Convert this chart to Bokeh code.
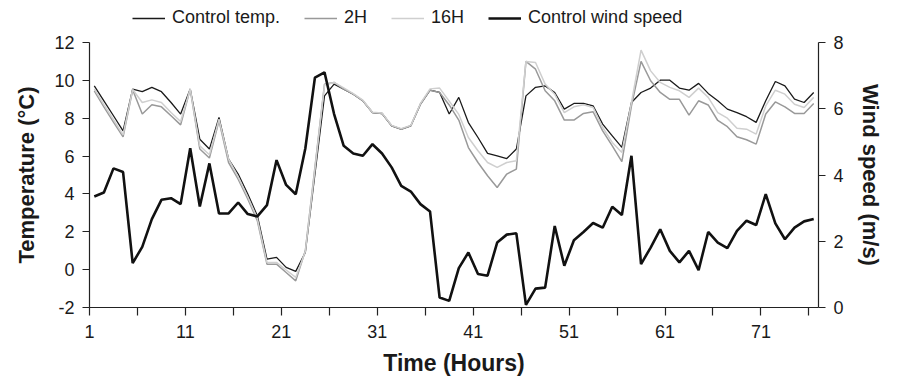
from bokeh.plotting import figure
from bokeh.layouts import column
from bokeh.models import (Range1d, LinearAxis, FixedTicker, Legend, LegendItem,
                          CustomJSTickFormatter)
from bokeh.embed import file_html
from bokeh.resources import INLINE

# ---- data ----
hours = list(range(1, 77))

control_temp = [9.71, 8.92, 8.13, 7.33, 9.54, 9.40, 9.63, 9.40, 8.83, 8.22,
                9.54, 6.89, 6.37, 8.04, 5.84, 5.05, 3.99, 2.85, 0.56, 0.65,
                0.12, -0.09, 0.91, 5.05, 9.18, 9.80, 9.54, 9.27, 8.92, 8.30,
                8.25, 7.60, 7.42, 7.60, 8.74, 9.48, 9.36, 8.22, 9.10, 7.77,
                6.98, 6.14, 6.01, 5.87, 6.37, 9.18, 9.63, 9.71, 9.36, 8.48,
                8.78, 8.78, 8.65, 7.69, 7.07, 6.46, 8.83, 9.36, 9.59, 10.01,
                10.01, 9.59, 9.48, 9.84, 9.31, 8.92, 8.48, 8.30, 8.08, 7.78,
                8.92, 9.94, 9.71, 9.01, 8.83, 9.36]

temp_2h = [9.45, 8.60, 7.80, 7.02, 9.50, 8.22, 8.71, 8.60, 8.13, 7.65,
           9.54, 6.37, 5.90, 7.86, 5.66, 4.78, 3.73, 2.58, 0.29, 0.29,
           -0.15, -0.59, 1.00, 5.40, 9.80, 9.89, 9.54, 9.27, 8.92, 8.30,
           8.25, 7.60, 7.42, 7.60, 8.74, 9.48, 9.36, 8.70, 7.90, 6.45,
           5.66, 4.96, 4.34, 5.05, 5.31, 11.00, 10.59, 9.45, 8.92, 7.90,
           7.90, 8.25, 8.34, 7.33, 6.54, 5.71, 8.65, 11.00, 9.98, 9.36,
           9.00, 9.00, 8.16, 8.92, 8.70, 7.88, 7.55, 7.02, 6.86, 6.63,
           8.22, 8.86, 8.60, 8.25, 8.25, 8.78]

temp_16h = [9.55, 8.72, 7.92, 7.12, 9.52, 8.83, 8.97, 8.83, 8.30, 7.83,
            9.54, 6.54, 6.07, 7.95, 5.84, 4.90, 3.85, 2.70, 0.38, 0.38,
            -0.02, -0.41, 0.96, 5.30, 9.75, 9.89, 9.60, 9.30, 8.95, 8.32,
            8.27, 7.62, 7.45, 7.62, 8.78, 9.55, 9.59, 8.90, 8.20, 6.98,
            6.28, 5.66, 5.40, 5.66, 5.75, 11.00, 10.94, 9.80, 9.27, 8.30,
            8.60, 8.71, 8.57, 7.51, 6.72, 6.19, 8.83, 11.60, 10.50, 9.89,
            9.63, 9.45, 9.10, 9.59, 9.10, 8.30, 8.00, 7.47, 7.42, 7.16,
            8.65, 9.48, 9.27, 8.74, 8.57, 9.10]

wind_speed = [3.35, 3.47, 4.20, 4.09, 1.34, 1.83, 2.67, 3.25, 3.30, 3.12,
              4.81, 3.05, 4.35, 2.84, 2.84, 3.17, 2.82, 2.75, 3.09, 4.45,
              3.70, 3.42, 4.80, 6.94, 7.10, 5.84, 4.88, 4.65, 4.58, 4.93,
              4.65, 4.23, 3.67, 3.50, 3.12, 2.90, 0.30, 0.20, 1.19, 1.66,
              1.01, 0.96, 1.96, 2.20, 2.24, 0.08, 0.57, 0.60, 2.46, 1.26,
              2.03, 2.28, 2.55, 2.41, 3.04, 2.79, 4.58, 1.31, 1.81, 2.36,
              1.71, 1.36, 1.71, 1.13, 2.28, 1.96, 1.79, 2.31, 2.62, 2.49,
              3.42, 2.54, 2.06, 2.41, 2.60, 2.67]

series_names = ["Control temp.", "2H", "16H", "Control wind speed"]
series_values = [control_temp, temp_2h, temp_16h, wind_speed]
x_tick_labels = ["1", "", "11", "", "21", "", "31", "", "41", "", "51", "",
                 "61", "", "71", ""]
temp_ticks = [-2, 0, 2, 4, 6, 8, 10, 12]
wind_ticks = [0, 2, 4, 6, 8]

FONT = "Liberation Sans"
styles = [dict(line_color="#1a1a1a", line_width=1.3),
          dict(line_color="#999999", line_width=1.5),
          dict(line_color="#cfcfcf", line_width=1.5),
          dict(line_color="#111111", line_width=2.6)]

W = 896
LEG_H = 34

# ---- main chart ----
p = figure(width=W, height=346, output_backend="svg", toolbar_location=None,
           x_range=Range1d(0.5, 76.5), y_range=Range1d(-2, 12),
           min_border_left=89, min_border_right=78,
           min_border_top=8, min_border_bottom=73)
p.outline_line_color = None
p.xgrid.visible = False
p.ygrid.visible = False
p.extra_y_ranges = {"wind": Range1d(0, 8)}

p.line(hours, control_temp, **styles[0])
p.line(hours, temp_2h, **styles[1])
p.line(hours, temp_16h, **styles[2])
p.line(hours, wind_speed, y_range_name="wind", **styles[3])

# x axis: ticks at category boundaries every 5 hours
xt = [0.5 + 5 * i for i in range(16)]
p.xaxis.ticker = FixedTicker(ticks=xt)
p.xaxis.formatter = CustomJSTickFormatter(
    args=dict(labels=x_tick_labels),
    code="const i = Math.round((tick - 0.5) / 5); "
         "return (i >= 0 && i < labels.length) ? labels[i] : '';")
p.xaxis.axis_label = "Time (Hours)"

p.yaxis.ticker = FixedTicker(ticks=temp_ticks)
p.yaxis.formatter = CustomJSTickFormatter(code="return Math.round(tick).toString();")
p.yaxis.axis_label = "Temperature (\u00b0C)"

ax_r = LinearAxis(y_range_name="wind", ticker=FixedTicker(ticks=wind_ticks),
                  formatter=CustomJSTickFormatter(code="return Math.round(tick).toString();"),
                  axis_label="Wind speed (m/s)")
p.add_layout(ax_r, "right")

for ax in [p.xaxis[0], p.yaxis[0], ax_r]:
    ax.minor_tick_line_color = None
    ax.major_tick_in = 0
    ax.major_tick_out = 7
    ax.axis_line_color = "#222222"
    ax.axis_line_width = 1.2
    ax.major_tick_line_color = "#222222"
    ax.major_tick_line_width = 1.2
    ax.major_label_text_font = FONT
    ax.major_label_text_font_size = "18px"
    ax.major_label_text_color = "#1a1a1a"
    ax.axis_label_text_font = FONT
    ax.axis_label_text_font_size = "22px"
    ax.axis_label_text_font_style = "bold"
    ax.axis_label_text_color = "#1a1a1a"
    ax.major_label_standoff = 8
    ax.axis_label_standoff = 12

p.xaxis.major_label_standoff = 9
p.xaxis.major_tick_out = 8
p.xaxis.axis_label_text_font_size = "23px"
p.xaxis.axis_label_standoff = 9
ax_r.axis_label_standoff = 11

# ---- legend row above the chart (series drawn outside its visible range) ----
pl = figure(width=W, height=LEG_H, output_backend="svg", toolbar_location=None,
            x_range=Range1d(-3, -2), y_range=Range1d(0, 1),
            x_axis_type=None, y_axis_type=None, min_border=0)
pl.outline_line_color = None
pl.xgrid.visible = False
pl.ygrid.visible = False
leg_renderers = [pl.line(hours, vals, **st)
                 for vals, st in zip(series_values, styles)]

legend = Legend(items=[LegendItem(label=n, renderers=[r])
                       for n, r in zip(series_names, leg_renderers)],
                orientation="horizontal", location=(43, 6),
                border_line_color=None, background_fill_alpha=0,
                label_text_font=FONT, label_text_font_size="18px",
                label_text_color="#1a1a1a",
                glyph_width=33, glyph_height=20, label_standoff=7,
                spacing=24, padding=0, margin=0)
pl.add_layout(legend)

layout = column(pl, p, spacing=0)

open("out.html", "w").write(file_html(layout, INLINE))
